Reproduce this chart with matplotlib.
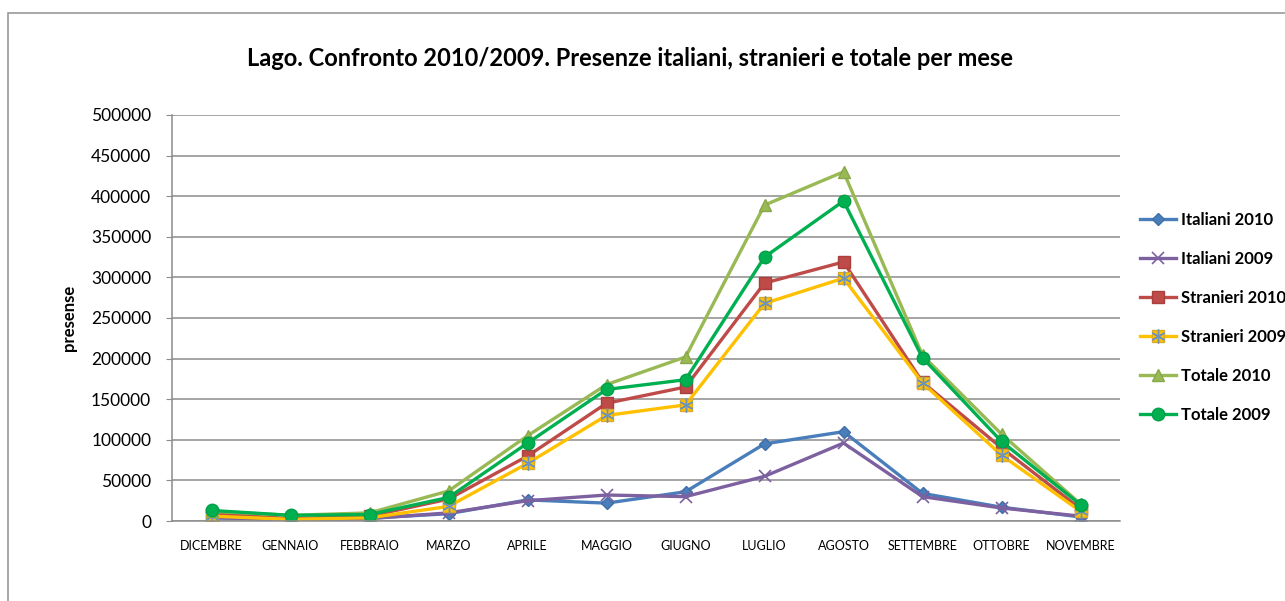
import matplotlib
matplotlib.use("Agg")
import matplotlib.pyplot as plt
from matplotlib.patches import Rectangle

plt.rcParams["font.family"] = ["Lato", "DejaVu Sans"]

# Presenze mensili sul Lago, stagione dic-nov
mesi = ["DICEMBRE", "GENNAIO", "FEBBRAIO", "MARZO", "APRILE", "MAGGIO",
        "GIUGNO", "LUGLIO", "AGOSTO", "SETTEMBRE", "OTTOBRE", "NOVEMBRE"]

italiani_2010 = [4000, 2000, 3500, 9000, 26000, 22000, 36000, 95000, 110000, 34000, 17000, 5000]
italiani_2009 = [4000, 2000, 3000, 10000, 25000, 32000, 30000, 55000, 96000, 30000, 16000, 6000]
stranieri_2010 = [9000, 3000, 6000, 27000, 80000, 145000, 165000, 293000, 319000, 171000, 90000, 15000]
stranieri_2009 = [6000, 2000, 4000, 18000, 71000, 130000, 143000, 268000, 299000, 170000, 81000, 12000]
totale_2010 = [12000, 7000, 10000, 37000, 105000, 168000, 202000, 389000, 430000, 204000, 107000, 21000]
totale_2009 = [13000, 7000, 8000, 29000, 96000, 162000, 174000, 325000, 394000, 201000, 98000, 20000]

fig = plt.figure(figsize=(12.85, 6.01), dpi=100)
ax = fig.add_axes([0.1339, 0.1331, 0.8716 - 0.1339, 0.8087 - 0.1331])

# cornice esterna del grafico
fig.patches.append(Rectangle((8 / 1285, -0.1), 1.2, 1 - 13 / 601 + 0.1,
                             transform=fig.transFigure, fill=False,
                             edgecolor="#9a9a9a", linewidth=1.2))

x = range(len(mesi))
lw = 2.4
h_it10, = ax.plot(x, italiani_2010, color="#4A7EBB", lw=lw, marker="D", ms=6.5,
                  markerfacecolor="#4A7EBB", markeredgecolor="#3E6FA8", label="Italiani 2010")
h_it09, = ax.plot(x, italiani_2009, color="#7D60A0", lw=lw, marker="x", ms=9,
                  markeredgewidth=1.2, markeredgecolor="#7D60A0", label="Italiani 2009")
h_st10, = ax.plot(x, stranieri_2010, color="#BE4B48", lw=lw, marker="s", ms=9,
                  markerfacecolor="#BE4B48", markeredgecolor="#A8403D", label="Stranieri 2010")
h_st09, = ax.plot(x, stranieri_2009, color="#FFC000", lw=lw, marker="s", ms=9,
                  markerfacecolor="#FFC000", markeredgecolor="#D8AA2E", label="Stranieri 2009")
h_st09b, = ax.plot(x, stranieri_2009, linestyle="none", marker=(6, 2, 0), ms=10,
                   markeredgecolor="#6F93B8", markeredgewidth=1.0)
h_to10, = ax.plot(x, totale_2010, color="#98B954", lw=lw, marker="^", ms=9,
                  markerfacecolor="#98B954", markeredgecolor="#89A84A", label="Totale 2010")
h_to09, = ax.plot(x, totale_2009, color="#00B050", lw=lw, marker="o", ms=9,
                  markerfacecolor="#00B050", markeredgecolor="#00A048", label="Totale 2009")

ax.set_xlim(-0.5, len(mesi) - 0.5)
ax.set_ylim(0, 500000)
ax.set_yticks(range(0, 500001, 50000))
ax.set_yticklabels([str(v) for v in range(0, 500001, 50000)], fontsize=12.5)
ax.set_xticks(list(x))
ax.set_xticklabels(mesi, fontsize=9)
ax.tick_params(axis="x", length=0, pad=14)
ax.tick_params(axis="y", length=4, color="#8c8c8c", pad=11)
ax.grid(True, axis="y", color="#8c8c8c", linewidth=1.1)
ax.set_axisbelow(True)
for side in ("top", "right"):
    ax.spines[side].set_visible(False)
for side in ("left", "bottom"):
    ax.spines[side].set_color("#8c8c8c")
    ax.spines[side].set_linewidth(1.1)

ax.set_ylabel("presense", fontsize=12, fontweight="bold", labelpad=10)

fig.text(630 / 1285, 1 - 58 / 601, "Lago. Confronto 2010/2009. Presenze italiani, stranieri e totale per mese",
         ha="center", va="center", fontsize=17, fontweight="bold")

handles = [h_it10, h_it09, h_st10, (h_st09, h_st09b), h_to10, h_to09]
labels = ["Italiani 2010", "Italiani 2009", "Stranieri 2010", "Stranieri 2009",
          "Totale 2010", "Totale 2009"]
fig.legend(handles, labels, loc="upper left", bbox_to_anchor=(1133 / 1285, 1 - 205 / 601),
           frameon=False, handlelength=2.2, handletextpad=0.3,
           labelspacing=1.38, borderaxespad=0, prop={"weight": "bold", "size": 12})

fig.savefig("out.png", dpi=100)
